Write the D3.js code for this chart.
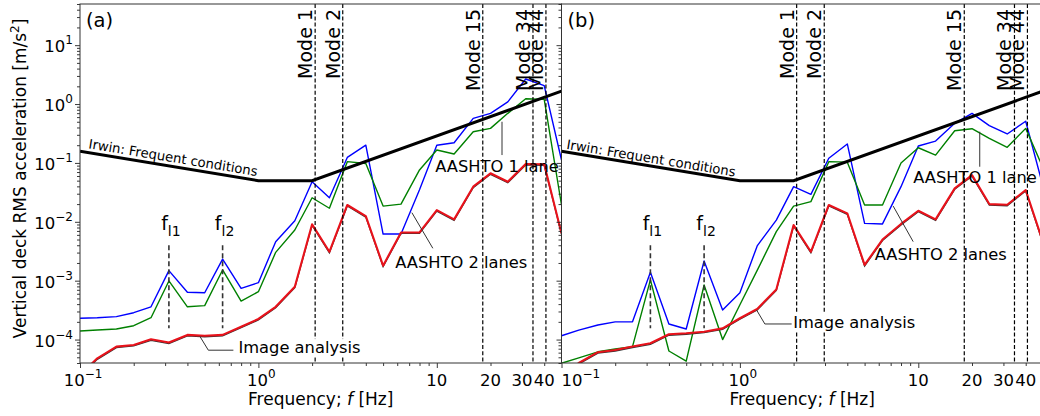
<!DOCTYPE html>
<html><head><meta charset="utf-8">
<script src="https://cdn.jsdelivr.net/npm/d3@7"></script>
<style>
body{margin:0;background:#fff;}
svg{display:block;font-family:"DejaVu Sans",sans-serif;}
</style></head><body>
<svg id="chart" width="1040" height="416"></svg>
<script>
// ---------- data ----------
const freqs = [0.1,0.125,0.16,0.2,0.25,0.315,0.4,0.5,0.63,0.8,1,1.25,1.6,2,2.5,3.15,4,5,6.3,8,10,12.5,16,20,25,31.5,40,50];

const blueA  = [2.3e-4,2.35e-4,2.45e-4,2.86e-4,3.6e-4,1.48e-3,6.35e-4,6.25e-4,2.33e-3,7.4e-4,9.25e-4,4.6e-3,1.04e-2,4.8e-2,2.56e-2,0.124,0.2,6.2e-3,6.2e-3,3.5e-2,0.2,0.22,0.57,0.695,1.09,2.66,2.05,0.112];
const greenA = [1.4e-4,1.45e-4,1.51e-4,1.72e-4,2.35e-4,9.9e-4,3.6e-4,3.77e-4,1.52e-3,4.5e-4,6.5e-4,3.03e-3,7.26e-3,2.56e-2,1.7e-2,0.105,0.098,1.85e-2,2.0e-2,7.6e-2,0.166,0.142,0.339,0.386,0.695,1.23,1.2,1.93e-2];
const redA   = [2.5e-5,4.8e-5,7.6e-5,8.1e-5,1.01e-4,8.9e-5,1.2e-4,1.16e-4,1.2e-4,1.65e-4,2.24e-4,3.6e-4,7.9e-4,9.06e-3,3.1e-3,1.93e-2,1.25e-2,1.8e-3,6.6e-3,6.6e-3,1.58e-2,1.1e-2,3.95e-2,6.66e-2,4.8e-2,9.6e-2,9.5e-2,6.4e-3];

const blueB  = [1.16e-4,1.45e-4,1.77e-4,2.0e-4,2.0e-4,1.39e-3,1.84e-4,1.51e-4,2.16e-3,3.18e-4,6.25e-4,3.9e-3,1.07e-2,3.95e-2,2.93e-2,0.12,0.21,9.4e-3,9.2e-3,3.95e-2,0.194,0.235,0.47,0.695,0.43,0.31,0.51,4.0e-2];
const greenB = [3.96e-5,4.9e-5,6.2e-5,6.9e-5,7.6e-5,1.03e-3,6.4e-5,4.3e-5,8.45e-4,1.0e-4,3.9e-4,1.5e-3,6.8e-3,1.85e-2,2.2e-2,0.105,0.103,1.93e-2,1.93e-2,0.1,0.181,0.136,0.352,0.381,0.261,0.184,0.386,8.2e-2];
const redB   = [2.5e-5,4.0e-5,6.1e-5,6.65e-5,7.6e-5,8.65e-5,1.23e-4,1.28e-4,1.36e-4,1.55e-4,2.3e-4,3.3e-4,7.1e-4,8.8e-3,3.1e-3,1.93e-2,1.39e-2,1.85e-3,5.0e-3,9.2e-3,1.54e-2,1.1e-2,3.7e-2,6.2e-2,2.0e-2,1.95e-2,3.47e-2,4.5e-3];

const irwinFreqs = [0.1,1,2,50];
const irwinVals  = [0.158,0.05,0.05,1.66];
const irwinLabel = "Irwin: Frequent conditions";

const modeFreqs  = [2.08,2.97,18.1,34.6,40.9];
const modeLabels = ["Mode 1","Mode 2","Mode 15","Mode 34","Mode 44"];

const lateralFreqs = [0.315,0.63];
const lateralSubs  = ["l1","l2"];
const lateralSpan  = [1.55e-4,4.0e-3];

const yTickVals = [1e-4,1e-3,1e-2,1e-1,1,10];
const yTickSups = ["−4","−3","−2","−1","0","1"];
const xTickVals  = [0.1,1,10,20,30,40];
const xTickBase  = ["10","10","10","20","30","40"];
const xTickSups  = ["−1","0","","","",""];

const annoTexts = ["AASHTO 1 lane","AASHTO 2 lanes","Image analysis"];
const annoBoxed = [false,false,true];
const annoPosA = [[9.8,0.0714],[5.85,1.64e-3],[0.773,5.9e-5]];
const annoLeadA = [[[23.2,0.5],[23.2,0.136]],[[7.25,1.43e-2],[9.5,3.55e-3]],[[0.471,1.12e-4],[0.524,6.6e-5],[0.724,6.6e-5]]];
const annoPosB = [[9.36,0.0465],[5.7,2.25e-3],[1.99,1.6e-4]];
const annoLeadB = [[[22.1,0.339],[22.1,0.0862]],[[7.23,1.85e-2],[9.36,4.6e-3]],[[1.24,3.18e-4],[1.38,1.84e-4],[1.95,1.84e-4]]];
const irwinAnchorA = [0.111,0.178];
const irwinAnchorB = [0.106,0.174];

// ---------- layout ----------
const svg = d3.select("#chart");
const Y0 = 4, Y1 = 363;
const y = d3.scaleLog().domain([4e-5,50]).range([Y1,Y0]);
const defs = svg.append("defs");

const panels = [
  {name:"a", x0:80, x1:561.5, blue:blueA, green:greenA, red:redA, pos:annoPosA, lead:annoLeadA, irwin:irwinAnchorA, ylabels:true, firstStart:false},
  {name:"b", x0:561.5, x1:1043, blue:blueB, green:greenB, red:redB, pos:annoPosB, lead:annoLeadB, irwin:irwinAnchorB, ylabels:false, firstStart:true}
];

const minorX = [];
[0.1,1,10].forEach(d=>{for(let k=2;k<=9;k++){const v=d*k; if(v<50) minorX.push(v);}});
const minorY = [];
[1e-5,1e-4,1e-3,1e-2,1e-1,1,10].forEach(d=>{for(let k=2;k<=9;k++){const v=d*k; if(v>=4e-5 && v<=50) minorY.push(v);}});

panels.forEach(p=>{
  const x = d3.scaleLog().domain([0.1,50]).range([p.x0,p.x1]);
  const g = svg.append("g");
  const clipId = "clip-"+p.name;
  defs.append("clipPath").attr("id",clipId).append("rect")
    .attr("x",p.x0).attr("y",Y0).attr("width",p.x1-p.x0).attr("height",Y1-Y0);
  const plot = g.append("g").attr("clip-path",`url(#${clipId})`);
  const line = d3.line().x(d=>x(d[0])).y(d=>y(d[1]));

  plot.append("path").datum(d3.zip(freqs,p.blue)).attr("d",line)
    .attr("fill","none").attr("stroke","#0000ff").attr("stroke-width",1.4).attr("stroke-linejoin","round");
  plot.append("path").datum(d3.zip(freqs,p.green)).attr("d",line)
    .attr("fill","none").attr("stroke","#008000").attr("stroke-width",1.4).attr("stroke-linejoin","round");
  plot.append("path").datum(d3.zip(freqs,p.red)).attr("d",line)
    .attr("fill","none").attr("stroke","#333").attr("stroke-width",1.3).attr("transform","translate(0,1)");
  plot.append("path").datum(d3.zip(freqs,p.red)).attr("d",line)
    .attr("fill","none").attr("stroke","#e8121b").attr("stroke-width",2.1).attr("stroke-linejoin","round");
  plot.append("path").datum(d3.zip(irwinFreqs,irwinVals)).attr("d",line)
    .attr("fill","none").attr("stroke","#000").attr("stroke-width",3);

  // mode lines
  modeFreqs.forEach((f,i)=>{
    plot.append("line").attr("x1",x(f)).attr("x2",x(f)).attr("y1",Y0).attr("y2",Y1)
      .attr("stroke","#000").attr("stroke-width",1.2).attr("stroke-dasharray","4,2.2");
    g.append("text").attr("transform",`translate(${x(f)-3},${Y0+5}) rotate(-90)`)
      .attr("text-anchor","end").attr("font-size",19).attr("fill","#000").text(modeLabels[i]);
  });
  // lateral lines
  lateralFreqs.forEach((f,i)=>{
    plot.append("line").attr("x1",x(f)).attr("x2",x(f)).attr("y1",y(lateralSpan[1])).attr("y2",y(lateralSpan[0]))
      .attr("stroke","#333").attr("stroke-width",1.6).attr("stroke-dasharray","5,3");
    const t = g.append("text").attr("x",x(f)+2).attr("y",230).attr("text-anchor","middle").attr("font-size",19).attr("fill","#000");
    t.append("tspan").text("f");
    t.append("tspan").attr("font-size",14).attr("dy",6).text(lateralSubs[i]);
  });

  // Irwin label
  const ang = Math.atan2(y(irwinVals[1])-y(irwinVals[0]), x(irwinFreqs[1])-x(irwinFreqs[0]))*180/Math.PI;
  g.append("text").attr("transform",`translate(${x(p.irwin[0])},${y(p.irwin[1])}) rotate(${ang})`)
    .attr("font-size",13.2).attr("fill","#000").text(irwinLabel);

  // annotations
  annoTexts.forEach((txt,i)=>{
    g.append("path").datum(p.lead[i]).attr("d",line).attr("fill","none").attr("stroke","#333").attr("stroke-width",1);
    const t = g.append("text").attr("x",x(p.pos[i][0])).attr("y",y(p.pos[i][1]))
      .attr("font-size",16.3).attr("fill","#000").text(txt);
    if(annoBoxed[i]){
      const bb = t.node().getBBox();
      g.insert("rect", () => t.node()).attr("x",bb.x-1).attr("y",bb.y+1).attr("width",bb.width+2).attr("height",bb.height-1).attr("fill","#fff");
    }
  });

  // panel label
  g.append("text").attr("x",p.x0+6).attr("y",27).attr("font-size",19.5).attr("fill","#000").text(`(${p.name})`);

  // axes (ticks)
  const axMajX = d3.axisBottom(x).tickValues([0.1,1,10]).tickSize(5).tickFormat("");
  const axMinX = d3.axisBottom(x).tickValues(minorX).tickSize(3).tickFormat("");
  const gx1 = g.append("g").attr("transform",`translate(0,${Y1})`).call(axMajX);
  const gx2 = g.append("g").attr("transform",`translate(0,${Y1})`).call(axMinX);
  const axMajY = d3.axisLeft(y).tickValues(yTickVals).tickSize(5).tickFormat("");
  const axMinY = d3.axisLeft(y).tickValues(minorY).tickSize(3).tickFormat("");
  const gy1 = g.append("g").attr("transform",`translate(${p.x0},0)`).call(axMajY);
  const gy2 = g.append("g").attr("transform",`translate(${p.x0},0)`).call(axMinY);
  [gx1,gx2,gy1,gy2].forEach(a=>{a.select(".domain").remove(); a.selectAll("line").attr("stroke","#222").attr("stroke-width",0.9);});

  // frame
  g.append("rect").attr("x",p.x0).attr("y",Y0).attr("width",p.x1-p.x0).attr("height",Y1-Y0)
    .attr("fill","none").attr("stroke","#333").attr("stroke-width",1);

  // x tick labels
  xTickVals.forEach((v,i)=>{
    const startAligned = p.firstStart && i===0;
    const t = g.append("text")
      .attr("x", startAligned ? x(v) : x(v)+(xTickSups[i]?3:0))
      .attr("y",386).attr("text-anchor", startAligned ? "start" : "middle")
      .attr("font-size",16.5).attr("fill","#000");
    t.append("tspan").text(xTickBase[i]);
    if(xTickSups[i]) t.append("tspan").attr("font-size",12).attr("dy",-8).text(xTickSups[i]);
  });
  // x label
  const xl = g.append("text").attr("x",(p.x0+p.x1)/2).attr("y",405).attr("text-anchor","middle")
    .attr("font-size",17).attr("fill","#000");
  xl.append("tspan").text("Frequency; ");
  xl.append("tspan").attr("font-style","italic").text("f");
  xl.append("tspan").text(" [Hz]");

  if(p.ylabels){
    yTickVals.forEach((v,i)=>{
      const t = g.append("text").attr("x",p.x0-7).attr("y",y(v)+7).attr("text-anchor","end")
        .attr("font-size",16.5).attr("fill","#000");
      t.append("tspan").text("10");
      t.append("tspan").attr("font-size",12).attr("dy",-8).text(yTickSups[i]);
    });
    const yl = g.append("text").attr("transform",`translate(26,${(Y0+Y1)/2-5}) rotate(-90)`)
      .attr("text-anchor","middle").attr("font-size",17).attr("fill","#000");
    yl.append("tspan").text("Vertical deck RMS acceleration [m/s");
    yl.append("tspan").attr("font-size",12).attr("dy",-7).text("2");
    yl.append("tspan").attr("dy",7).text("]");
  }
});
</script>
</body></html>
